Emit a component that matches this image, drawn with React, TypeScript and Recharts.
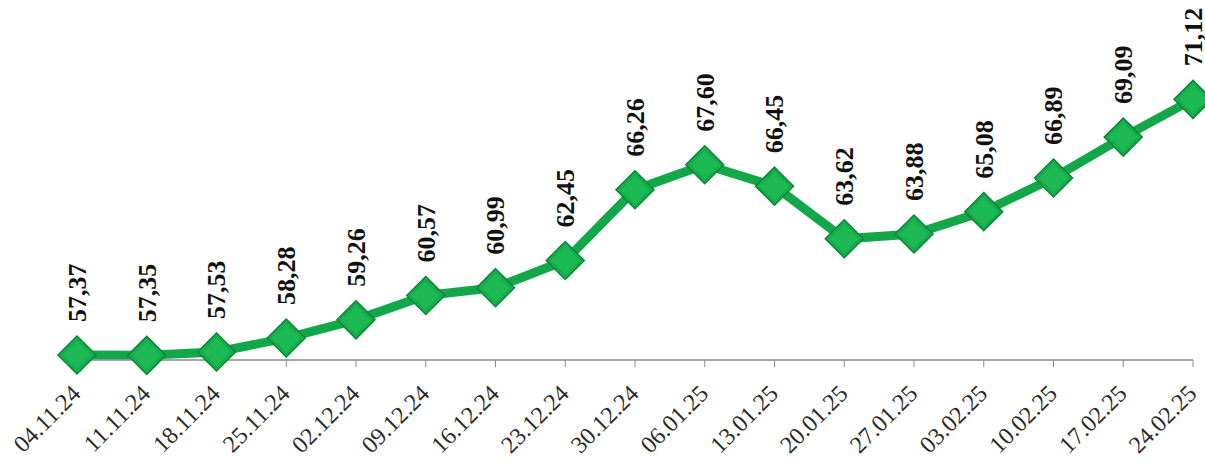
import React from "react";
import { LineChart, Line, XAxis, YAxis } from "recharts";

const dates = [
  "04.11.24", "11.11.24", "18.11.24", "25.11.24", "02.12.24", "09.12.24",
  "16.12.24", "23.12.24", "30.12.24", "06.01.25", "13.01.25", "20.01.25",
  "27.01.25", "03.02.25", "10.02.25", "17.02.25", "24.02.25",
];
const values = [
  57.37, 57.35, 57.53, 58.28, 59.26, 60.57, 60.99, 62.45, 66.26, 67.6,
  66.45, 63.62, 63.88, 65.08, 66.89, 69.09, 71.12,
];

const data = dates.map((d, i) => ({ date: d, value: values[i] }));

const FONT = "'Liberation Serif', 'Times New Roman', serif";

const Diamond = (props: any) => {
  const { cx, cy, index } = props;
  if (cx == null || cy == null) return null;
  const r = 19;
  return (
    <g key={`d-${index}`}>
      <polygon
        points={`${cx},${cy - r} ${cx + r},${cy} ${cx},${cy + r} ${cx - r},${cy}`}
        fill="#16AE4C"
        stroke="#0B8636"
        strokeWidth={1.5}
      />
      <polygon
        points={`${cx},${cy - r + 5} ${cx + r - 5},${cy} ${cx},${cy + r - 5} ${cx - r + 5},${cy}`}
        fill="#22C25C"
        opacity={0.55}
      />
    </g>
  );
};

const ValueLabel = (props: any) => {
  const { x, y, value, index } = props;
  const text = Number(value).toFixed(2).replace(".", ",");
  const ax = x + 9;
  const ay = y - 33;
  return (
    <text
      key={`l-${index}`}
      x={ax}
      y={ay}
      transform={`rotate(-90 ${ax} ${ay})`}
      textAnchor="start"
      fontFamily={FONT}
      fontWeight="bold"
      fontSize={26}
      fill="#111"
    >
      {text}
    </text>
  );
};

const DateTick = (props: any) => {
  const { x, y, payload } = props;
  const ax = x + 5;
  const ay = y + 26;
  return (
    <text
      x={ax}
      y={ay}
      transform={`rotate(-45 ${ax} ${ay})`}
      textAnchor="end"
      fontFamily={FONT}
      fontSize={24}
      fill="#2a2a2a"
    >
      {payload.value}
    </text>
  );
};

export default function App() {
  return (
    <div style={{ position: "absolute", left: 0, top: 0, width: 1205, height: 466, background: "#fff" }}>
      <LineChart
        width={1205}
        height={466}
        data={data}
        margin={{ top: 83, right: 12, left: 77, bottom: 0 }}
      >
        <XAxis
          dataKey="date"
          interval={0}
          height={106}
          tick={<DateTick />}
          tickLine={{ stroke: "#8a8a8a" }}
          tickSize={7}
          axisLine={{ stroke: "#8a8a8a", strokeWidth: 1.5 }}
        />
        <YAxis hide domain={[57.1, 72]} />
        <Line
          type="linear"
          dataKey="value"
          stroke="#12A84A"
          strokeWidth={9}
          dot={<Diamond />}
          activeDot={false}
          label={<ValueLabel />}
          isAnimationActive={false}
        />
      </LineChart>
    </div>
  );
}
